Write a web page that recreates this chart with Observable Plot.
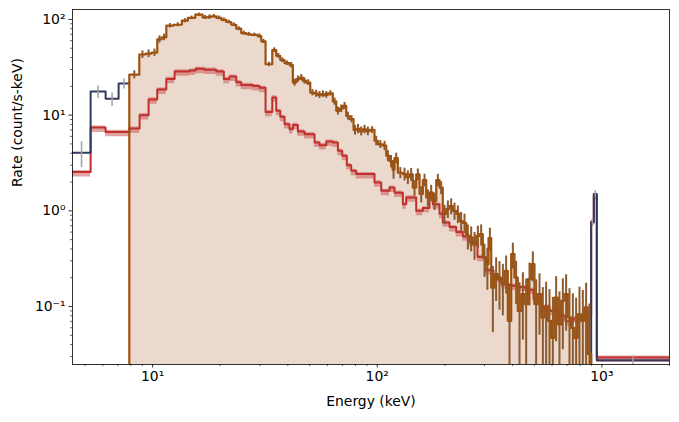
<!DOCTYPE html>
<html>
<head>
<meta charset="utf-8">
<script src="https://cdn.jsdelivr.net/npm/d3@7"></script>
<script src="https://cdn.jsdelivr.net/npm/@observablehq/plot@0.6"></script>
<style>
  html, body { margin: 0; padding: 0; background: white; }
</style>
</head>
<body>
<div id="chart"></div>
<script>
// ---------- data (energy in keV, rate in count/s-keV) ----------
const sourceEdges = [7.877, 8.727, 9.308, 9.898, 10.49, 10.97, 11.51, 12.40, 13.50, 14.36, 15.49, 16.69, 17.57, 18.25, 19.21, 20.22, 21.28, 22.40, 23.58, 24.81, 26.12, 27.50, 29.33, 30.46, 31.83, 34.10, 35.52, 37.01, 38.68, 40.71, 42.11, 43.60, 45.10, 46.66, 48.31, 50.33, 52.60, 54.40, 56.33, 58.28, 60.29, 63.45, 65.70, 67.96, 70.30, 72.78, 75.29, 78.44, 80.90, 83.42, 86.29, 89.34, 92.42, 97.27, 100.6, 105.9, 109.7, 113.4, 117.0, 119.4, 123.5, 130.0, 134.6, 139.2, 144.0, 149.1, 154.3, 159.6, 165.2, 170.9, 176.8, 183.1, 189.3, 195.8, 202.8, 209.8, 217.0, 224.7, 232.4, 240.4, 248.9, 257.5, 266.4, 275.8, 285.3, 295.1, 305.6, 312.9, 321.7, 332.7, 344.1, 356.3, 368.6, 381.3, 394.8, 408.3, 422.4, 437.5, 452.5, 468.1, 484.6, 501.2, 518.5, 536.9, 555.3, 574.4, 594.7, 615.2, 636.4, 658.9, 681.6, 705.0, 730.1, 755.1, 781.1, 808.8, 836.6, 865.4, 896.1];
const sourceRates = [26.5, 43, 44, 45, 62, 65, 86, 88, 97, 104, 112, 105, 106, 108, 104, 99, 94, 88, 80, 72, 70, 69, 67, 59, 34, 47.8, 41.7, 37.6, 34.9, 33.3, 21.9, 23.8, 24.7, 22.8, 21.9, 17.2, 16.8, 16.3, 16.6, 16.3, 16.9, 13.9, 11.1, 11.7, 12.5, 9.8, 9.1, 7.0, 7.2, 6.8, 7.1, 6.8, 7.0, 5.4, 4.95, 4.8, 3.76, 3.3, 2.7, 3.55, 2.5, 2.42, 2.25, 2.4, 1.75, 2.4, 1.5, 2.1, 1.38, 1.55, 1.27, 2.1, 1.75, 0.93, 1.05, 1.12, 1.0, 0.93, 0.78, 0.75, 0.55, 0.526, 0.449, 0.548, 0.571, 0.325, 0.277, 0.52, 0.158, 0.218, 0.193, 0.178, 0.236, 0.071, 0.353, 0.201, 0.090, 0.135, 0.106, 0.193, 0.277, 0.106, 0.135, 0.077, 0.098, 0.071, 0.047, 0.124, 0.065, 0.115, 0.135, 0.077, 0.060, 0.047, 0.083, 0.071, 0.098, 0.032];

const bkgEdges = [4.4, 5.298, 6.178, 7.877, 8.753, 9.598, 10.49, 11.51, 12.53, 14.61, 15.54, 17.04, 19.21, 20.76, 22.01, 23.58, 24.81, 27.95, 29.94, 31.83, 34.10, 35.52, 37.01, 38.68, 40.71, 42.11, 44.33, 47.48, 52.60, 55.36, 59.30, 63.45, 66.81, 69.86, 73.23, 76.61, 80.64, 97.27, 104.2, 113.4, 119.4, 130.0, 134.6, 149.1, 159.6, 170.9, 176.8, 189.3, 195.8, 209.8, 224.7, 240.4, 257.5, 279.5, 303.4, 329.3, 357.4, 388.0, 421.2, 457.1, 496.2, 538.6, 584.7, 634.5, 688.7, 747.5, 811.4, 896.1, 920.5, 949.2, 2000];
const bkgRates = [2.54, 7.41, 6.68, 7.24, 10.0, 14.6, 18.5, 23.9, 28.6, 29.2, 30.5, 29.8, 28.6, 23.9, 25.3, 22.1, 20.7, 20.1, 19.3, 10.8, 15.3, 11.1, 9.6, 8.05, 7.14, 7.9, 6.75, 6.33, 5.17, 4.86, 5.3, 5.17, 4.24, 3.76, 3.0, 2.62, 2.42, 1.98, 1.62, 1.75, 1.55, 1.17, 1.38, 1.0, 1.07, 1.5, 1.17, 0.93, 0.755, 0.676, 0.6, 0.54, 0.47, 0.33, 0.24, 0.2, 0.17, 0.165, 0.16, 0.15, 0.12, 0.1, 0.09, 0.08, 0.07, 0.075, 0.08, 0.77, 1.45, 0.0293];

const lowEdges = [4.4, 5.298, 6.178, 7.058, 7.877];
const lowRates = [4.04, 17.7, 14.8, 21.4];
const lowErrLo = [2.83, 14.9, 12.3, 18.7];
const lowErrHi = [5.26, 20.2, 17.0, 23.8];

const highEdges = [896.1, 920.5, 949.2, 2000];
const highRates = [0.755, 1.50, 0.0275];
const highErrLo = [0.70, 1.38, 0.025];
const highErrHi = [0.81, 1.62, 0.0305];

const xMajor = [10, 100, 1000];
const xMinor = [5, 6, 7, 8, 9, 20, 30, 40, 50, 60, 70, 80, 90, 200, 300, 400, 500, 600, 700, 800, 900, 2000];
const yMajor = [0.1, 1, 10, 100];
const yMinor = [0.03, 0.04, 0.05, 0.06, 0.07, 0.08, 0.09, 0.2, 0.3, 0.4, 0.5, 0.6, 0.7, 0.8, 0.9, 2, 3, 4, 5, 6, 7, 8, 9, 20, 30, 40, 50, 60, 70, 80, 90];

const exposure = 6.0;   // s, counting statistics for the error bars
const sysFloor = 0.07;  // count/s-keV, background-subtraction uncertainty
const yMin = 0.0248, yMax = 127;

// ---------- helpers ----------
function steps(edges, vals) {
  const pts = vals.map((v, i) => ({x: edges[i], y: v}));
  pts.push({x: edges[edges.length - 1], y: vals[vals.length - 1]});
  return pts;
}
const supMap = {"-": "\u207B", "0": "\u2070", "1": "\u00B9", "2": "\u00B2", "3": "\u00B3"};
const sup = d => "10" + String(Math.round(Math.log10(d))).split("").map(c => supMap[c]).join("");
const bkgAt = e => bkgRates[Math.max(0, Math.min(bkgRates.length - 1, d3.bisectRight(bkgEdges, e) - 1))];

const srcSteps = steps(sourceEdges, sourceRates);
const srcPath = [{x: sourceEdges[0], y: yMin}, ...srcSteps, {x: sourceEdges[sourceEdges.length - 1], y: yMin}];
const srcErr = sourceRates.map((v, i) => {
  const dE = sourceEdges[i + 1] - sourceEdges[i];
  const xc = Math.sqrt(sourceEdges[i] * sourceEdges[i + 1]);
  const s = Math.sqrt((v + bkgAt(xc)) / (exposure * dE) + sysFloor * sysFloor);
  return {x: xc, lo: Math.max(v - s, yMin), hi: v + s};
});
const bkgSteps = steps(bkgEdges, bkgRates);
const lowSteps = steps(lowEdges, lowRates);
const highSteps = [{x: highEdges[0], y: yMin}, ...steps(highEdges, highRates)];
const detErr = [
  ...lowRates.map((v, i) => ({x: Math.sqrt(lowEdges[i] * lowEdges[i + 1]), lo: lowErrLo[i], hi: lowErrHi[i]})),
  ...highRates.map((v, i) => ({x: Math.sqrt(highEdges[i] * highEdges[i + 1]), lo: highErrLo[i], hi: highErrHi[i]}))
];

const navy = "#2f3a5f", red = "#c0302c", brown = "#9e520f";

const chart = Plot.plot({
  width: 679,
  height: 422,
  marginLeft: 72,
  marginRight: 10,
  marginTop: 9,
  marginBottom: 58,
  style: {fontFamily: "DejaVu Sans", fontSize: "13.9px", color: "black", background: "white"},
  x: {type: "log", domain: [4.4, 2000]},
  y: {type: "log", domain: [yMin, yMax]},
  marks: [
    Plot.areaY(srcSteps, {x: "x", y1: yMin, y2: "y", curve: "step-after", fill: "#ead9cc"}),
    Plot.areaY(bkgSteps, {x: "x", y1: d => d.y * 0.89, y2: d => d.y * 1.04, curve: "step-after", fill: "#cc5a5a", fillOpacity: 0.55, clip: true}),
    Plot.line(bkgSteps, {x: "x", y: "y", curve: "step-after", stroke: red, strokeWidth: 2, clip: true}),
    Plot.line(lowSteps, {x: "x", y: "y", curve: "step-after", stroke: navy, strokeWidth: 2, clip: true}),
    Plot.line(highSteps, {x: "x", y: "y", curve: "step-after", stroke: navy, strokeWidth: 2, clip: true}),
    Plot.ruleX(detErr, {x: "x", y1: "lo", y2: "hi", stroke: "#a0a0a0", strokeWidth: 1.5, clip: true}),
    Plot.ruleX(srcErr, {x: "x", y1: "lo", y2: "hi", stroke: "#8c5a2e", strokeWidth: 2, clip: true}),
    Plot.line(srcPath, {x: "x", y: "y", curve: "step-after", stroke: brown, strokeWidth: 2.2, clip: true}),
    Plot.frame({stroke: "black", strokeWidth: 0.8}),
    Plot.axisX({ticks: xMajor, tickSize: 3.5, tickPadding: 3.5, tickFormat: sup, label: null, strokeWidth: 0.8}),
    Plot.axisX({ticks: xMinor, tickSize: 2, tickFormat: () => "", label: null, strokeWidth: 0.6}),
    Plot.axisY({ticks: yMajor, tickSize: 3.5, tickPadding: 3.5, tickFormat: sup, label: null, strokeWidth: 0.8}),
    Plot.axisY({ticks: yMinor, tickSize: 2, tickFormat: () => "", label: null, strokeWidth: 0.6}),
    Plot.text(["Energy (keV)"], {frameAnchor: "bottom", dy: 41, text: d => d, fontSize: 13.9}),
    Plot.text(["Rate (count/s-keV)"], {frameAnchor: "left", dx: -55, rotate: -90, text: d => d, fontSize: 13.9})
  ]
});
document.getElementById("chart").appendChild(chart);
</script>
</body>
</html>
